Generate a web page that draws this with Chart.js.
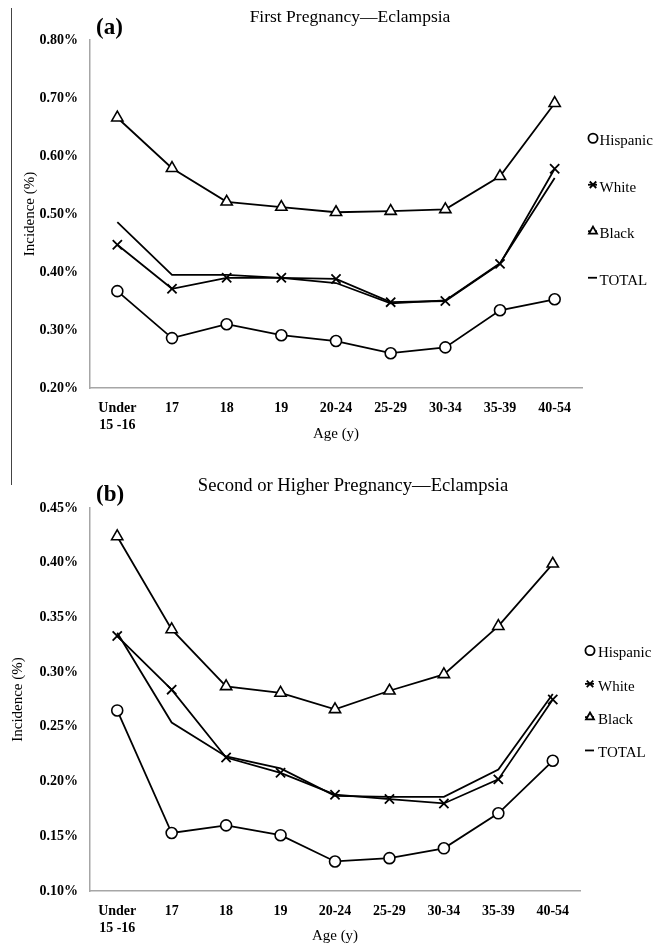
<!DOCTYPE html>
<html><head><meta charset="utf-8">
<script src="https://cdn.jsdelivr.net/npm/chart.js@4"></script>
<style>
html,body{margin:0;padding:0;background:#fff;}
#wrap{position:relative;width:655px;height:944px;overflow:hidden;background:#fff;}
#c1{position:absolute;left:0;top:0;}
#c2{position:absolute;left:0;top:470px;}
#rule{position:absolute;left:11px;top:8px;width:0;height:477px;border-left:1.5px solid #444;}
</style></head>
<body><div id="wrap"><div id="rule"></div>
<canvas id="c1" width="655" height="470"></canvas>
<canvas id="c2" width="655" height="474"></canvas></div>
<script>
const categories = [['Under','15 -16'],'17','18','19','20-24','25-29','30-34','35-39','40-54'];
const seriesNames = ['Hispanic','White','Black','TOTAL'];

// (a) First Pregnancy — incidence (%)
const firstHispanic = [0.367,0.286,0.310,0.291,0.281,0.260,0.270,0.334,0.353];
const firstWhite    = [0.447,0.371,0.390,0.390,0.388,0.348,0.350,0.414,0.578];
const firstBlack    = [0.666,0.579,0.521,0.512,0.503,0.505,0.508,0.565,0.691];
const firstTotal    = [0.486,0.395,0.395,0.390,0.381,0.346,0.351,0.415,0.562];
const firstAxis = [0.2, 0.8, 0.1];

// (b) Second or Higher Pregnancy — incidence (%)
const secondHispanic = [0.265,0.153,0.160,0.151,0.127,0.130,0.139,0.171,0.219];
const secondWhite    = [0.333,0.284,0.222,0.208,0.188,0.184,0.180,0.202,0.275];
const secondBlack    = [0.424,0.339,0.287,0.281,0.266,0.283,0.298,0.342,0.399];
const secondTotal    = [0.336,0.254,0.223,0.212,0.187,0.186,0.186,0.211,0.280];
const secondAxis = [0.1, 0.45, 0.05];

const SERIF = '"Liberation Serif","Times New Roman",serif';
const AXIS = '#a6a6a6';

const headPlugin = {
  id:'head',
  afterDraw(chart, args, opts){
    const ctx = chart.ctx;
    ctx.save();
    ctx.fillStyle = '#000';
    ctx.textBaseline = 'middle';
    ctx.font = 'bold 23px ' + SERIF;
    ctx.textAlign = 'left';
    ctx.fillText(opts.tag, opts.tagX, opts.tagY);
    ctx.font = opts.titleSize + 'px ' + SERIF;
    ctx.textAlign = 'center';
    ctx.fillText(opts.title, opts.titleX, opts.titleY);
    ctx.restore();
  }
};

const sideLegend = {
  id:'sideLegend',
  afterDraw(chart, args, opts){
    const {ctx, chartArea} = chart;
    const ds = chart.data.datasets;
    const cy = (chartArea.top + chartArea.bottom)/2 + opts.shift;
    ctx.save();
    ds.forEach((d,i)=>{
      const y = cy + (i - (ds.length-1)/2)*opts.spacing;
      const x = chartArea.right + opts.dx;
      const my = y - 2;
      ctx.strokeStyle = '#000';
      ctx.fillStyle = '#fff';
      ctx.lineWidth = 1.8;
      ctx.beginPath(); ctx.moveTo(x-5, my); ctx.lineTo(x+4, my); ctx.stroke();
      if (d.pointRadius > 0) {
        Chart.helpers.drawPoint(ctx, {pointStyle:d.pointStyle, radius:4.6, borderWidth:1.8, rotation:0}, x, my);
      }
      ctx.fillStyle = '#000';
      ctx.font = '15px ' + SERIF;
      ctx.textAlign = 'left';
      ctx.textBaseline = 'middle';
      ctx.fillText(d.label, x + opts.tx, y + 1);
    });
    ctx.restore();
  }
};

function makeChart(id, title, series, axis, o){
  const base = {borderColor:'#000', borderWidth:1.8, tension:0, fill:false,
                pointBackgroundColor:'#fff', pointBorderColor:'#000', pointBorderWidth:1.6};
  return new Chart(document.getElementById(id), {
    type:'line',
    data:{labels:categories, datasets:[
      Object.assign({}, base, {label:seriesNames[0], data:series[0], pointStyle:'circle', pointRadius:5.5}),
      Object.assign({}, base, {label:seriesNames[1], data:series[1], pointStyle:'crossRot', pointRadius:6.5, pointBorderWidth:1.8}),
      Object.assign({}, base, {label:seriesNames[2], data:series[2], pointStyle:'triangle', pointRadius:6.5}),
      Object.assign({}, base, {label:seriesNames[3], data:series[3], pointRadius:0, pointStyle:'line'})
    ]},
    options:{
      responsive:false, animation:false, events:[],
      layout:{padding:{left:0, right:o.padRight, top:o.padTop, bottom:o.padBottom}},
      plugins:{
        legend:{display:false}, tooltip:{enabled:false}, title:{display:false},
        head:{tag:o.tag, tagX:96, tagY:o.tagY, title:title, titleSize:o.titleSize, titleX:o.titleX, titleY:o.titleY},
        sideLegend:{dx:o.legDx, tx:o.legTx, spacing:o.legSpacing, shift:o.legShift}
      },
      scales:{
        x:{offset:true,
           grid:{display:false, drawTicks:false},
           border:{display:true, color:AXIS, width:1.5},
           ticks:{padding:12, color:'#000', maxRotation:0, autoSkip:false,
                  font:{family:SERIF, size:14, weight:'bold', lineHeight:1.2}},
           title:{display:true, text:'Age (y)', color:'#000',
                  font:{family:SERIF, size:15, lineHeight:1}, padding:0},
           afterFit:s=>{ s.height = o.xh; }},
        y:{min:axis[0], max:axis[1],
           grid:{display:false, drawTicks:false},
           border:{display:true, color:AXIS, width:1.5},
           ticks:{stepSize:axis[2], padding:12, color:'#000',
                  callback:v=>v.toFixed(2)+'%',
                  font:{family:SERIF, size:14, weight:'bold'}},
           title:{display:true, text:'Incidence (%)', color:'#000',
                  font:{family:SERIF, size:15, lineHeight:1}, padding:{top:o.ytPad, bottom:0}},
           afterFit:s=>{ s.width = 90; }}
      }
    },
    plugins:[headPlugin, sideLegend]
  });
}

makeChart('c1', 'First Pregnancy\u2014Eclampsia',
  [firstHispanic, firstWhite, firstBlack, firstTotal], firstAxis,
  {tag:'(a)', tagY:28, titleSize:17.5, titleX:350, titleY:17,
   padRight:73, padTop:40, padBottom:28, xh:54, ytPad:22.5,
   legDx:11, legTx:6.5, legSpacing:46.5, legShift:-4});

makeChart('c2', 'Second or Higher Pregnancy\u2014Eclampsia',
  [secondHispanic, secondWhite, secondBlack, secondTotal], secondAxis,
  {tag:'(b)', tagY:25, titleSize:18.6, titleX:353, titleY:16.5,
   padRight:75, padTop:38, padBottom:0, xh:53, ytPad:10.5,
   legDx:10, legTx:8, legSpacing:33.3, legShift:3});
</script>
</body></html>
